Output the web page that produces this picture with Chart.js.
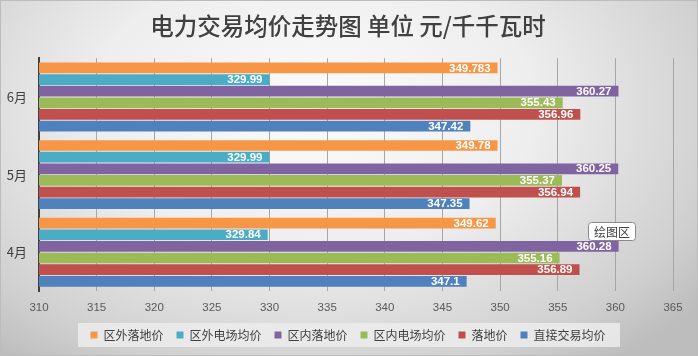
<!DOCTYPE html>
<html><head><meta charset="utf-8">
<script src="https://cdn.jsdelivr.net/npm/chart.js@4/dist/chart.umd.min.js"></script>
<style>
html,body{margin:0;padding:0;}
#wrap{position:relative;width:698px;height:356px;
background:radial-gradient(ellipse 70% 90% at 45% 30%, #fbfbfb 0%, #eeeeee 45%, #cfcfcf 85%, #bdbdbd 100%);}
#wrap:after{content:"";position:absolute;left:0;top:0;right:0;bottom:0;border:1px solid #bcbcbc;pointer-events:none;}
canvas{position:absolute;left:0;top:0;}
</style></head>
<body><div id="wrap"><canvas id="c" width="698" height="356"></canvas></div>
<script>
const categories = ['6月','5月','4月'];
const seriesNames = ['区外落地价','区外电场均价','区内落地价','区内电场均价','落地价','直接交易均价'];
const quwaiLuodi   = [349.783, 349.78, 349.62];
const quwaiDianchang = [329.99, 329.99, 329.84];
const quneiLuodi   = [360.27, 360.25, 360.28];
const quneiDianchang = [355.43, 355.37, 355.16];
const luodi        = [356.96, 356.94, 356.89];
const zhijie       = [347.42, 347.35, 347.1];
const xTicks = [310,315,320,325,330,335,340,345,350,355,360,365];

const colors = ['#F79646','#4BACC6','#8064A2','#9BBB59','#C0504D','#4F81BD'];
const series = [quwaiLuodi, quwaiDianchang, quneiLuodi, quneiDianchang, luodi, zhijie];

const labelPlugin = {
  id:'barLabels',
  afterDatasetsDraw(chart){
    const ctx = chart.ctx;
    ctx.save();
    ctx.font = 'bold 11.5px "Liberation Sans", Arial, sans-serif';
    ctx.fillStyle = '#ffffff';
    ctx.textAlign = 'right';
    ctx.textBaseline = 'middle';
    chart.data.datasets.forEach((ds,i)=>{
      chart.getDatasetMeta(i).data.forEach((el,j)=>{
        ctx.fillText(String(ds.data[j]), el.x - 7, el.y + 0.5);
      });
    });
    // category labels on the y scale
    const ys = chart.scales.y;
    ctx.fillStyle = '#404040';
    ctx.font = '13px "Noto Sans CJK SC", sans-serif';
    chart.data.labels.forEach((lab,i)=>{
      ctx.fillText(lab, ys.right - 12, ys.getPixelForTick(i));
    });
    // 绘图区 tooltip box
    const xs = chart.scales.x;
    const bx = Math.round(xs.getPixelForValue(357.6)), by = 222;
    ctx.fillStyle = '#ffffff';
    ctx.strokeStyle = '#8a8a8a';
    ctx.lineWidth = 1;
    ctx.beginPath();
    if (ctx.roundRect) ctx.roundRect(bx+0.5, by+0.5, 47, 18, 3); else ctx.rect(bx+0.5,by+0.5,47,18);
    ctx.fill(); ctx.stroke();
    ctx.fillStyle = '#404040';
    ctx.textAlign = 'center';
    ctx.font = '12px "Noto Sans CJK SC", sans-serif';
    ctx.fillText('绘图区', bx+24, by+10);
    ctx.restore();
  }
};
const legendBg = {
  id:'legendBg',
  beforeDraw(chart){
    const ctx = chart.ctx;
    ctx.save();
    ctx.fillStyle = 'rgba(236,236,236,0.85)';
    ctx.fillRect(78, 323, 542, 24);
    ctx.restore();
  }
};

new Chart(document.getElementById('c'), {
  type:'bar',
  data:{
    labels: categories,
    datasets: seriesNames.map((n,i)=>({
      label:n, data:series[i], backgroundColor:colors[i], borderWidth:0,
      categoryPercentage:0.9, barPercentage:0.92
    }))
  },
  options:{
    indexAxis:'y', responsive:false, animation:false,
    layout:{padding:{left:23,right:25,top:0,bottom:5}},
    plugins:{
      title:{display:true, text:'电力交易均价走势图 单位 元/千千瓦时', color:'#404040',
        font:{size:23.5, family:'"Noto Sans CJK SC", sans-serif', weight:'500'},
        padding:{top:12,bottom:18}},
      legend:{position:'bottom',
        labels:{boxWidth:7, boxHeight:7, padding:13, color:'#404040',
          font:{size:12, family:'"Noto Sans CJK SC", sans-serif'}}},
      tooltip:{enabled:false}
    },
    scales:{
      x:{min:310, max:365, afterBuildTicks(s){ s.ticks = xTicks.map(v=>({value:v})); },
        afterFit(s){ s.height = 25; },
        grid:{color:'#a6a6a6', drawTicks:false},
        border:{display:false},
        ticks:{color:'#595959', padding:10, font:{size:11.5, family:'"Liberation Sans", Arial, sans-serif'}}},
      y:{grid:{display:false, drawTicks:false}, border:{display:true, color:'#404040', width:2},
        afterFit(s){ s.width = 16; },
        ticks:{display:false}}
    }
  },
  plugins:[labelPlugin, legendBg]
});
</script></body></html>
